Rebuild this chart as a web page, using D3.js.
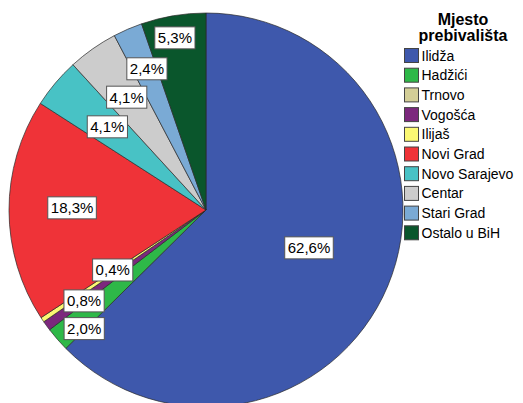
<!DOCTYPE html>
<html>
<head>
<meta charset="utf-8">
<script src="https://cdn.jsdelivr.net/npm/d3@7"></script>
<style>
  html, body { margin: 0; padding: 0; background: #fff; }
  svg { display: block; font-family: "Liberation Sans", Arial, sans-serif; }
</style>
</head>
<body>
<svg id="chart" width="523" height="403"></svg>
<script>
// ---- data ----
const categories = ["Ilidža", "Hadžići", "Trnovo", "Vogošća", "Ilijaš", "Novi Grad", "Novo Sarajevo", "Centar", "Stari Grad", "Ostalo u BiH"];
const percents = [62.6, 2.0, 0.0, 0.8, 0.4, 18.3, 4.1, 4.1, 2.4, 5.3];
const colors = ["#3E58AC", "#2EB848", "#D3CE97", "#7C287D", "#FBF873", "#EF3338", "#48C2C5", "#CCCCCC", "#7AAAD5", "#0A562C"];
const legendTitle = ["Mjesto", "prebivališta"];

// ---- layout (label placement: radius fraction, angle shift in degrees) ----
const labelRadius = [0.557, 0.863, 0, 0.772, 0.563, 0.68, 0.655, 0.70, 0.777, 0.888];
const labelShift = [-2.5, -3.2, 0, -0.7, 1.1, 1.1, 0, 0, 0.7, -0.7];

const svg = d3.select("#chart");
const cx = 206, cy = 210, R = 197;

const data = categories.map((c, i) => ({ name: c, value: percents[i], color: colors[i], i }));

const pie = d3.pie().sort(null).value(d => d.value).startAngle(0).endAngle(2 * Math.PI);
const arcs = pie(data);
const arc = d3.arc().innerRadius(0).outerRadius(R);

const g = svg.append("g").attr("transform", `translate(${cx},${cy})`);

g.selectAll("path.slice")
  .data(arcs.filter(d => d.data.value > 0))
  .join("path")
  .attr("class", "slice")
  .attr("d", arc)
  .attr("fill", d => d.data.color)
  .attr("stroke", "#2a2a2a")
  .attr("stroke-width", 0.7)
  .attr("stroke-linejoin", "round");

const fmt = v => v.toFixed(1).replace(".", ",") + "%";

const labels = g.selectAll("g.lbl")
  .data(arcs.filter(d => d.data.value > 0))
  .join("g")
  .attr("class", "lbl")
  .attr("transform", d => {
    const i = d.data.i;
    const a = (d.startAngle + d.endAngle) / 2 + labelShift[i] * Math.PI / 180;
    const r = labelRadius[i] * R;
    return `translate(${r * Math.sin(a)},${-r * Math.cos(a)})`;
  });

labels.each(function(d) {
  const sel = d3.select(this);
  const t = sel.append("text")
    .attr("text-anchor", "middle")
    .attr("dy", "0.36em")
    .attr("font-size", 15)
    .attr("fill", "#000")
    .text(fmt(d.data.value));
  const w = t.node().getComputedTextLength();
  sel.insert("rect", "text")
    .attr("x", -w / 2 - 3)
    .attr("y", -11)
    .attr("width", w + 6)
    .attr("height", 22)
    .attr("fill", "#fff")
    .attr("stroke", "#555")
    .attr("stroke-width", 1);
});

// ---- legend ----
const lg = svg.append("g");
lg.selectAll("text.title")
  .data(legendTitle)
  .join("text")
  .attr("class", "title")
  .attr("x", 463)
  .attr("y", (d, i) => 25 + i * 15.5)
  .attr("text-anchor", "middle")
  .attr("font-size", 16)
  .attr("font-weight", "bold")
  .attr("fill", "#000")
  .text(d => d);

const items = lg.selectAll("g.item")
  .data(data)
  .join("g")
  .attr("class", "item")
  .attr("transform", (d, i) => `translate(404,${48 + i * 19.7})`);

items.append("rect")
  .attr("x", 0.5).attr("y", 0.5)
  .attr("width", 14).attr("height", 14)
  .attr("fill", d => d.color)
  .attr("stroke", "#444")
  .attr("stroke-width", 1);

items.append("text")
  .attr("x", 17.5)
  .attr("y", 12.5)
  .attr("font-size", 14)
  .attr("fill", "#000")
  .text(d => d.name);
</script>
</body>
</html>
